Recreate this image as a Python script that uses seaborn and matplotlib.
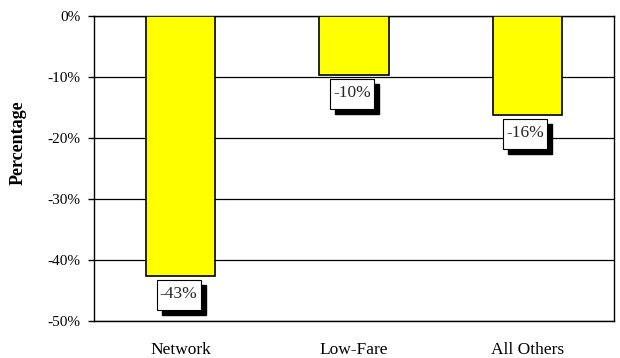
import matplotlib
matplotlib.use("Agg")
import matplotlib.pyplot as plt
import matplotlib.patches as mpatches
from matplotlib.transforms import Affine2D, ScaledTranslation
import seaborn as sns
import pandas as pd

carriers = ["Network", "Low-Fare", "All Others"]
pct_change = [-42.6, -9.7, -16.2]
y_ticks = [0, -10, -20, -30, -40, -50]

sns.set_style("white")
plt.rcParams["font.family"] = ["Liberation Serif", "DejaVu Serif"]

fig = plt.figure(figsize=(6.2, 3.58), dpi=100)
ax = fig.add_axes([0.1516, 0.1034, 0.8387, 0.852])

df = pd.DataFrame({"carrier": carriers, "change": pct_change})
sns.barplot(data=df, x="carrier", y="change", color="#FFFF00", saturation=1,
            edgecolor="black", linewidth=1.2, width=0.4, ax=ax, zorder=3)

ax.set_xlim(-0.5, 2.5)
ax.set_ylim(-50, 0)
ax.set_yticks(y_ticks)
ax.set_yticklabels([f"{t}%" for t in y_ticks])
ax.yaxis.grid(True, color="black", linewidth=0.9)
ax.xaxis.grid(False)
ax.set_axisbelow(True)
for s in ax.spines.values():
    s.set_visible(True)
    s.set_color("black")
    s.set_linewidth(1.0)

ax.tick_params(axis="y", left=True, length=4.3, width=1, color="black",
               pad=5.5, labelsize=11, labelcolor="black")
ax.tick_params(axis="x", bottom=False, length=0, pad=15, labelsize=12.5,
               labelcolor="black")
ax.set_xlabel("")
ax.set_ylabel("Percentage", fontsize=13, fontweight="bold", color="black")
ax.yaxis.set_label_coords(-0.129, 0.585)

# value callouts: white box with a drop shadow just below each bar end
pt = fig.dpi / 72.0
w, h = 31.7, 21.6
gap, dx, sh = 2.9, -1.5, 3.6
for i, v in enumerate(pct_change):
    tr = Affine2D().scale(pt) + ScaledTranslation(i, v, ax.transData)
    ax.add_patch(mpatches.Rectangle((dx - w / 2 + sh, -gap - h - sh), w, h,
                                    facecolor="black", edgecolor="black",
                                    transform=tr, zorder=5, clip_on=False))
    ax.add_patch(mpatches.Rectangle((dx - w / 2, -gap - h), w, h,
                                    facecolor="white", edgecolor="black",
                                    linewidth=0.8, transform=tr, zorder=6,
                                    clip_on=False))
    ax.annotate(f"{v:.0f}%", xy=(i, v), xytext=(dx, -gap - h / 2 + 0.8),
                textcoords="offset points", ha="center", va="center",
                fontsize=12.5, zorder=7)

fig.savefig("out.png", dpi=100)
